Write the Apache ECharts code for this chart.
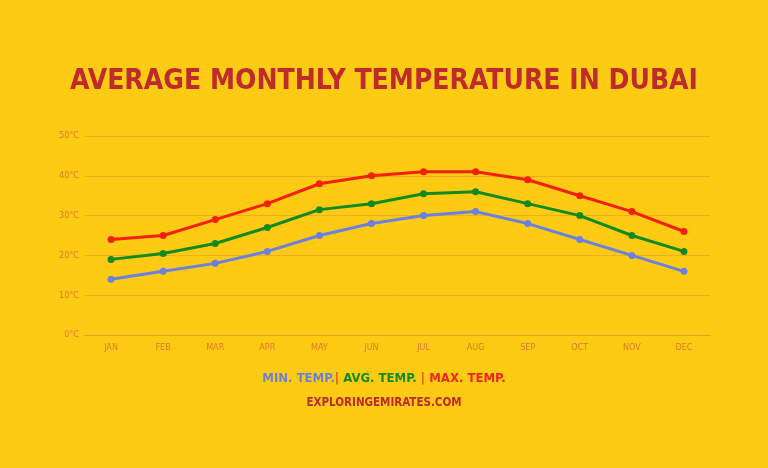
<!DOCTYPE html>
<html><head><meta charset="utf-8">
<script src="https://cdn.jsdelivr.net/npm/echarts@6/dist/echarts.min.js"></script>
<style>html,body{margin:0;padding:0;background:#FDCB14}#c{width:768px;height:468px}</style>
</head><body><div id="c"></div>
<script>
const months = ['JAN','FEB','MAR','APR','MAY','JUN','JUL','AUG','SEP','OCT','NOV','DEC'];
const minTemp = [14, 16, 18, 21, 25, 28, 30, 31, 28, 24, 20, 16];
const avgTemp = [19, 20.5, 23, 27, 31.5, 33, 35.5, 36, 33, 30, 25, 21];
const maxTemp = [24, 25, 29, 33, 38, 40, 41, 41, 39, 35, 31, 26];
const yTicks = [0, 10, 20, 30, 40, 50];

const chart = echarts.init(document.getElementById('c'));
const font = '"DejaVu Sans Condensed", "DejaVu Sans", sans-serif';
function line(name, data, color) {
  return {name, type: 'line', data, symbol: 'circle', symbolSize: 7,
    lineStyle: {width: 3, color}, itemStyle: {color}, z: 3};
}
chart.setOption({
  backgroundColor: '#FDCB14',
  animation: false,
  title: [
    {text: 'AVERAGE MONTHLY TEMPERATURE IN DUBAI', left: 'center', top: 63,
     textStyle: {fontFamily: font, fontWeight: 'bold', fontSize: 28, color: '#BF2A2A'}},
    {text: '{b|MIN. TEMP.}{s|| }{g|AVG. TEMP.}{s| | }{r|MAX. TEMP.}', left: 'center', top: 367,
     textStyle: {rich: {
       b: {fontFamily: font, fontWeight: 'bold', fontSize: 13, color: '#6B80D8'},
       g: {fontFamily: font, fontWeight: 'bold', fontSize: 13, color: '#148A22'},
       r: {fontFamily: font, fontWeight: 'bold', fontSize: 13, color: '#F0281A'},
       s: {fontFamily: font, fontSize: 13, color: '#E0501A'}
     }}},
    {text: 'EXPLORINGEMIRATES.COM', left: 'center', top: 392,
     textStyle: {fontFamily: font, fontWeight: 'bold', fontSize: 11.5, color: '#C0282A'}}
  ],
  grid: {left: 85, right: 58, top: 136, bottom: 133, containLabel: false},
  xAxis: {type: 'category', data: months, boundaryGap: true,
    axisLine: {lineStyle: {color: '#E8A02A', width: 1}},
    axisTick: {show: false},
    axisLabel: {color: '#E07A2A', fontSize: 9, fontFamily: font, margin: 8}},
  yAxis: {type: 'value', min: yTicks[0], max: yTicks[yTicks.length - 1], interval: 10,
    axisLine: {show: false}, axisTick: {show: false},
    splitLine: {lineStyle: {color: '#EEAE22', width: 1}},
    axisLabel: {color: '#E07A2A', fontSize: 9, fontFamily: font, margin: 6,
      formatter: v => v + '°C'}},
  series: [
    line('MIN. TEMP.', minTemp, '#6B80E0'),
    line('AVG. TEMP.', avgTemp, '#148A1E'),
    line('MAX. TEMP.', maxTemp, '#F4200C')
  ]
});
</script></body></html>
